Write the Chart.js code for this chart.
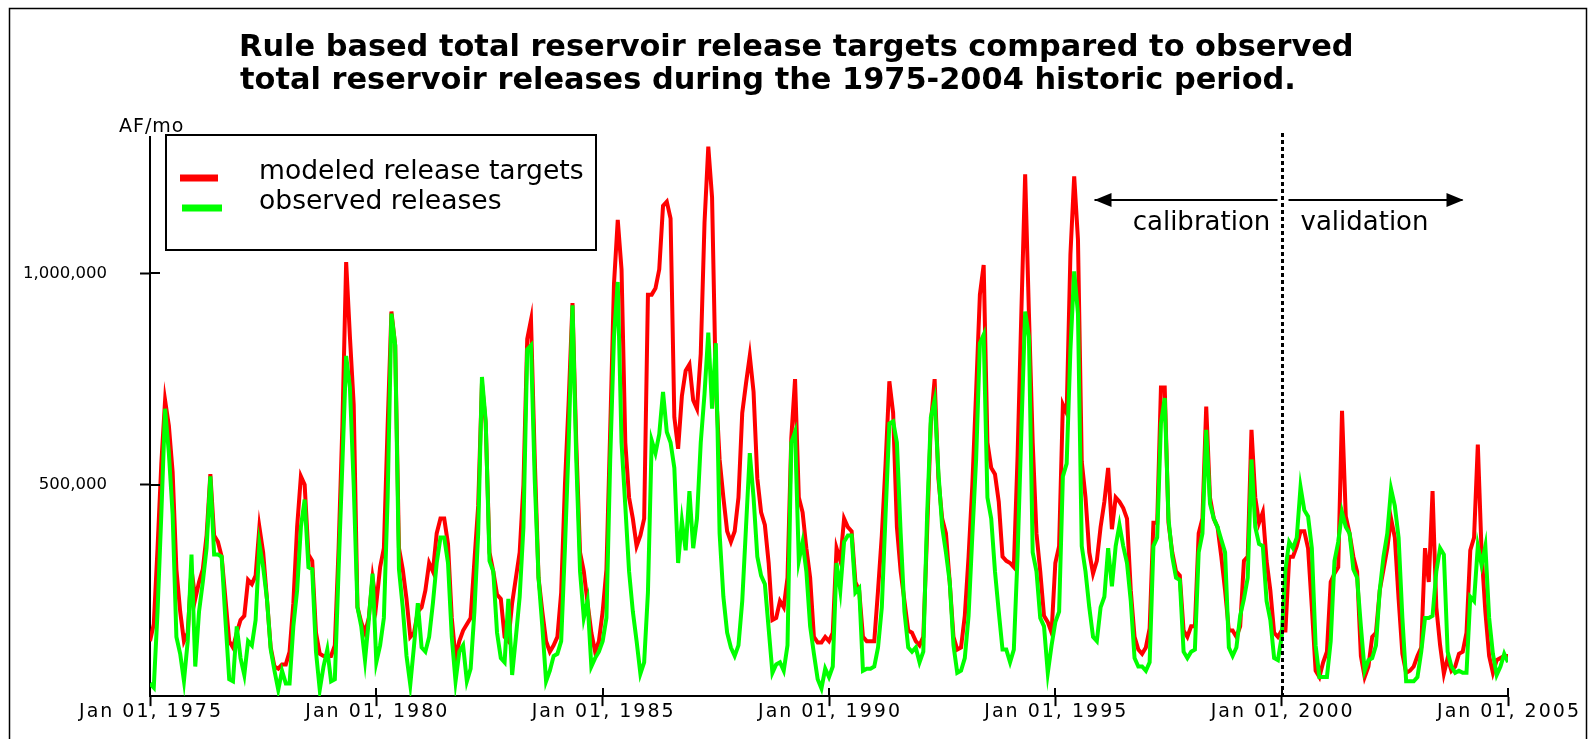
<!DOCTYPE html>
<html><head><meta charset="utf-8">
<script src="https://cdn.jsdelivr.net/npm/chart.js@4"></script>
<style>html,body{margin:0;padding:0;background:#fff;}#wrap{position:relative;width:1593px;height:739px;}</style>
</head><body><div id="wrap"><canvas id="c" width="1593" height="739"></canvas></div>
<script>
// ---- data (thousand acre-feet per month, monthly from Jan 1975 to Jan 2005) ----
const tickYears = [1975, 1980, 1985, 1990, 1995, 2000, 2005];
const tickLabels = tickYears.map(y => 'Jan 01, ' + y);
const tickMonths = tickYears.map(y => (y - 1975) * 12);
const yTickValues = [500000, 1000000];
const splitMonth = 300; // Jan 2000: calibration / validation boundary
const titleLines = ['Rule based total reservoir release targets compared to observed',
                    'total reservoir releases during the 1975-2004 historic period.'];
const seriesNames = ['modeled release targets', 'observed releases'];

const modeled = [
  130,170,350,550,700,640,530,300,200,130,150,300,
  230,270,300,380,525,380,365,330,230,130,115,150,
  180,190,275,265,285,400,340,230,115,70,65,75,
  75,105,220,400,520,500,335,320,150,100,95,95,
  95,120,350,640,1027,850,690,210,175,150,185,280,
  220,305,350,640,910,830,350,300,230,140,150,200,
  210,250,315,295,385,420,420,360,185,90,130,155,
  170,185,320,450,740,645,340,295,240,230,140,130,
  220,280,340,500,845,890,560,280,200,130,105,120,
  140,245,500,700,930,600,340,295,220,150,105,130,
  200,300,630,975,1127,1010,600,470,420,355,380,420,
  950,950,965,1010,1160,1170,1130,660,585,710,770,785,
  700,680,810,1120,1300,1180,730,560,470,390,365,390,
  470,670,740,805,720,515,435,405,315,180,185,225,
  210,280,610,750,470,435,350,280,140,127,127,140,
  130,150,350,320,420,400,390,270,250,140,130,130,
  130,250,380,550,745,670,400,295,225,155,150,130,
  120,140,385,645,750,515,420,385,270,140,110,115,
  190,330,500,720,950,1020,600,540,525,460,330,320,
  315,305,570,910,1235,905,600,385,295,190,175,150,
  315,355,690,670,1045,1230,1080,555,470,340,290,320,
  400,460,540,395,470,460,445,420,250,140,110,100,
  115,160,410,410,730,730,410,340,295,285,155,140,
  165,165,385,420,685,470,420,400,330,250,155,155,
  140,165,320,330,630,470,410,435,320,250,150,140,
  155,155,330,330,355,390,390,350,210,60,45,80,
  105,270,290,305,675,425,385,330,295,95,45,70,
  140,150,250,300,350,420,375,230,100,55,60,70,
  95,115,350,270,485,210,120,53,90,60,70,100,
  105,150,345,375,595,340,200,95,55,85,90,95,
  95
];

const observed = [
  30,20,200,430,680,575,430,140,100,36,130,335,
  70,200,270,350,520,335,335,330,180,40,35,165,
  90,50,130,120,180,360,305,230,110,60,15,60,
  30,30,165,250,400,465,305,300,105,15,70,110,
  35,40,300,550,805,730,500,210,165,85,180,290,
  80,120,185,470,905,830,300,210,95,27,120,220,
  115,105,140,220,315,375,375,315,140,35,105,120,
  35,65,200,385,755,650,320,295,150,90,80,230,
  50,140,235,400,820,830,510,280,165,35,60,95,
  100,130,350,600,925,560,295,185,225,70,90,105,
  130,185,560,850,980,600,450,295,200,130,53,80,
  245,605,575,620,720,625,600,540,315,415,345,485,
  350,420,600,715,860,680,835,385,235,150,115,95,
  120,225,400,575,470,330,285,265,160,55,75,80,
  60,120,600,625,320,365,295,165,100,40,18,65,
  45,70,315,250,365,380,380,245,255,60,65,65,
  70,115,210,430,645,650,600,385,200,115,105,115,
  80,105,425,660,700,530,400,340,270,120,55,60,
  90,190,380,560,835,855,470,420,295,200,110,110,
  80,110,335,630,910,850,340,295,185,165,55,120,
  175,200,520,550,820,1005,905,355,295,210,140,130,
  210,235,350,260,355,405,355,315,225,90,70,70,
  60,80,355,375,645,705,420,330,280,275,105,90,
  105,110,340,385,630,455,420,400,370,340,115,95,
  115,190,230,280,560,400,360,355,225,180,90,85,
  140,300,365,350,375,495,440,425,350,120,45,45,
  45,130,320,365,435,400,385,300,280,165,60,85,
  90,120,250,330,385,490,450,375,185,35,35,35,
  45,105,185,185,190,295,350,335,105,70,55,60,
  55,55,235,225,355,310,355,185,100,50,70,100,
  80
];

const RED = '#ff0000', GREEN = '#00ff00';
const toPoints = arr => arr.map((v, i) => ({ x: i, y: v * 1000 }));

const decor = {
  id: 'decor',
  beforeDraw(chart) {
    const ctx = chart.ctx;
    ctx.save();
    ctx.fillStyle = '#fff';
    ctx.fillRect(0, 0, chart.width, chart.height);
    ctx.strokeStyle = '#000';
    ctx.lineWidth = 1.5;
    ctx.strokeRect(9.5, 8.5, 1577, 760);
    ctx.restore();
  },
  afterDraw(chart) {
    const ctx = chart.ctx, ca = chart.chartArea;
    const xs = chart.scales.x, ys = chart.scales.y;
    ctx.save();
    ctx.fillStyle = '#000';
    ctx.strokeStyle = '#000';
    // title
    ctx.font = 'bold 30.4px "DejaVu Sans"';
    ctx.textAlign = 'left';
    ctx.textBaseline = 'alphabetic';
    ctx.fillText(titleLines[0], 239, 56);
    ctx.fillText(titleLines[1], 240, 89);
    // unit label
    ctx.font = '19px "DejaVu Sans"';
    ctx.letterSpacing = '1px';
    ctx.fillText('AF/mo', 119, 132);
    // x tick labels
    ctx.font = '19px "DejaVu Sans"';
    ctx.letterSpacing = '2px';
    ctx.textAlign = 'center';
    ctx.textBaseline = 'top';
    xs.ticks.forEach((t, k) => {
      ctx.fillText(tickLabels[k], xs.getPixelForValue(t.value) + 1, ca.bottom + 6);
    });
    ctx.letterSpacing = '0px';
    // inward tick halves
    ctx.lineWidth = 2;
    ctx.beginPath();
    xs.ticks.forEach(t => {
      const px = Math.round(xs.getPixelForValue(t.value));
      ctx.moveTo(px, ca.bottom); ctx.lineTo(px, ca.bottom - 8);
    });
    ys.ticks.forEach(t => {
      const py = Math.round(ys.getPixelForValue(t.value));
      ctx.moveTo(ca.left, py); ctx.lineTo(ca.left + 10, py);
    });
    ctx.stroke();
    // legend box
    ctx.lineWidth = 2;
    ctx.strokeRect(166, 135, 430, 115);
    ctx.lineWidth = 7;
    ctx.strokeStyle = RED;
    ctx.beginPath(); ctx.moveTo(180, 178); ctx.lineTo(218, 178); ctx.stroke();
    ctx.strokeStyle = GREEN;
    ctx.beginPath(); ctx.moveTo(182, 208); ctx.lineTo(222, 208); ctx.stroke();
    ctx.font = '26.6px "DejaVu Sans"';
    ctx.textAlign = 'left';
    ctx.textBaseline = 'alphabetic';
    ctx.fillStyle = '#000';
    ctx.fillText(seriesNames[0], 259, 179);
    ctx.fillText(seriesNames[1], 259, 209);
    // split line
    const sx = Math.round(xs.getPixelForValue(splitMonth)) + 0.5;
    ctx.strokeStyle = '#000';
    ctx.lineWidth = 3;
    ctx.setLineDash([4, 3]);
    ctx.beginPath(); ctx.moveTo(sx, 133); ctx.lineTo(sx, ca.bottom); ctx.stroke();
    ctx.setLineDash([]);
    // arrows
    const ay = 200;
    ctx.lineWidth = 2;
    ctx.beginPath();
    ctx.moveTo(sx - 188, ay); ctx.lineTo(sx - 5, ay);
    ctx.moveTo(sx + 6, ay); ctx.lineTo(sx + 180, ay);
    ctx.stroke();
    ctx.beginPath();
    ctx.moveTo(sx - 188, ay); ctx.lineTo(sx - 171, ay - 7); ctx.lineTo(sx - 171, ay + 7); ctx.closePath();
    ctx.moveTo(sx + 181, ay); ctx.lineTo(sx + 164, ay - 7); ctx.lineTo(sx + 164, ay + 7); ctx.closePath();
    ctx.fill();
    ctx.font = '26px "DejaVu Sans"';
    ctx.textAlign = 'center';
    ctx.fillText('calibration', sx - 81, 230);
    ctx.fillText('validation', sx + 82, 230);
    ctx.restore();
  }
};

new Chart(document.getElementById('c'), {
  type: 'line',
  data: {
    datasets: [
      { label: seriesNames[0], data: toPoints(modeled), borderColor: RED, backgroundColor: RED,
        borderWidth: 4, pointRadius: 0, tension: 0, order: 2, borderJoinStyle: 'miter' },
      { label: seriesNames[1], data: toPoints(observed), borderColor: GREEN, backgroundColor: GREEN,
        borderWidth: 4, pointRadius: 0, tension: 0, order: 1, borderJoinStyle: 'miter' }
    ]
  },
  options: {
    responsive: false,
    animation: false,
    devicePixelRatio: 1,
    layout: { padding: { left: 0, top: 137, right: 85, bottom: 0 } },
    plugins: { legend: { display: false }, tooltip: { enabled: false }, title: { display: false } },
    scales: {
      x: {
        type: 'linear', position: 'bottom', min: 0, max: 360,
        afterBuildTicks: s => { s.ticks = tickMonths.map(v => ({ value: v })); },
        afterFit: s => { s.height = 41; },
        ticks: { display: false },
        grid: { display: true, drawOnChartArea: false, drawTicks: true, tickLength: 10, tickColor: '#000', tickWidth: 2 },
        border: { display: true, color: '#000', width: 2 }
      },
      y: {
        min: 0, max: 1323000,
        afterBuildTicks: s => { s.ticks = yTickValues.map(v => ({ value: v })); },
        afterFit: s => { s.width = 150; },
        ticks: { color: '#000', font: { family: 'DejaVu Sans', size: 16.5 }, padding: 33,
                 callback: v => Number(v).toLocaleString('en-US') },
        grid: { display: true, drawOnChartArea: false, drawTicks: true, tickLength: 10, tickColor: '#000', tickWidth: 2 },
        border: { display: true, color: '#000', width: 2 }
      }
    }
  },
  plugins: [decor]
});
</script></body></html>
